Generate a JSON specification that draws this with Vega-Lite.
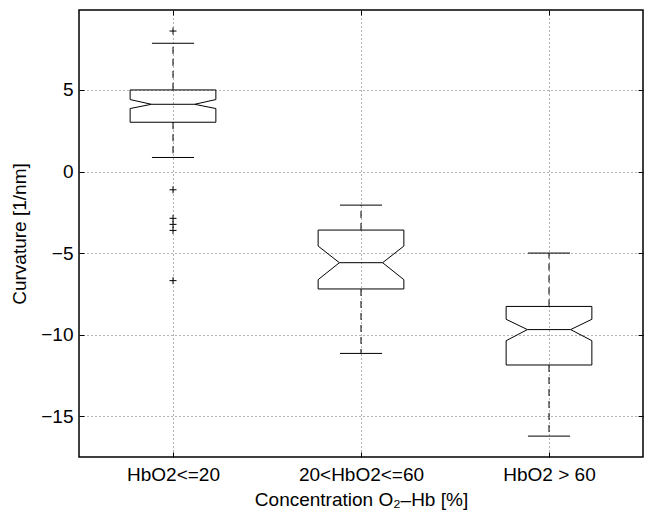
{
  "$schema": "https://vega.github.io/schema/vega-lite/v6.json",
  "autosize": {"type": "none"},
  "padding": {"left": 79, "top": 10, "right": 2, "bottom": 62},
  "width": 564,
  "height": 447,
  "background": "white",
  "config": {
    "view": {"stroke": "#000", "strokeWidth": 1.5},
    "font": "Liberation Sans",
    "axis": {"labelFont": "Liberation Sans", "titleFont": "Liberation Sans", "labelFontSize": 19, "titleFontSize": 19, "labelColor": "#000", "titleColor": "#000", "titleFontWeight": "normal", "tickColor": "#000", "domain": false}
  },
  "datasets": {
    "stats": [
      {"pos": 1, "name": "HbO2<=20", "wlo": 0.86, "q1": 3.02, "nlo": 3.86, "med": 4.12, "nhi": 4.41, "q3": 5.0, "whi": 7.86},
      {"pos": 2, "name": "20<HbO2<=60", "wlo": -11.15, "q1": -7.2, "nlo": -6.63, "med": -5.59, "nhi": -4.57, "q3": -3.59, "whi": -2.06},
      {"pos": 3, "name": "HbO2 > 60", "wlo": -16.22, "q1": -11.86, "nlo": -10.37, "med": -9.69, "nhi": -9.06, "q3": -8.27, "whi": -5.0}
    ],
    "outliers": [
      {"pos": 1, "value": 8.61},
      {"pos": 1, "value": -1.12},
      {"pos": 1, "value": -2.87},
      {"pos": 1, "value": -3.24},
      {"pos": 1, "value": -3.61},
      {"pos": 1, "value": -6.69}
    ]
  },
  "resolve": {"axis": {"x": "independent", "y": "independent"}},
  "layer": [
    {
      "data": {"name": "stats"},
      "transform": [
        {"calculate": "[-0.228,0.228,0.228,0.115,0.228,0.228,-0.228,-0.228,-0.115,-0.228,-0.228]", "as": "vx"},
        {"calculate": "[datum.q3,datum.q3,datum.nhi,datum.med,datum.nlo,datum.q1,datum.q1,datum.nlo,datum.med,datum.nhi,datum.q3]", "as": "vy"},
        {"calculate": "[0,1,2,3,4,5,6,7,8,9,10]", "as": "vi"},
        {"flatten": ["vx", "vy", "vi"]},
        {"calculate": "datum.pos + datum.vx", "as": "bx"}
      ],
      "mark": {"type": "line", "color": "#000", "strokeWidth": 1, "interpolate": "linear"},
      "encoding": {
        "x": {"field": "bx", "type": "quantitative",
          "scale": {"domain": [0.5, 3.5], "nice": false, "zero": false},
          "axis": {"orient": "bottom", "values": [1, 2, 3], "labelExpr": "datum.value == 1 ? 'HbO2<=20' : datum.value == 2 ? '20<HbO2<=60' : 'HbO2 > 60'",
            "title": "Concentration O₂–Hb [%]", "grid": true, "gridDash": [1, 3], "gridColor": "#666", "gridWidth": 1,
            "tickSize": -5, "labelPadding": 13, "titlePadding": 6, "labelFlush": false}},
        "y": {"field": "vy", "type": "quantitative",
          "scale": {"domain": [-17.5, 9.9], "nice": false, "zero": false},
          "axis": {"orient": "left", "values": [-15, -10, -5, 0, 5], "labelExpr": "datum.value < 0 ? '−' + abs(datum.value) : '' + datum.value",
            "title": "Curvature [1/nm]", "grid": true, "gridDash": [1, 3], "gridColor": "#666", "gridWidth": 1,
            "tickSize": -5, "labelPadding": 11, "titlePadding": 11, "labelFlush": false}},
        "order": {"field": "vi", "type": "quantitative"},
        "detail": {"field": "name"}
      }
    },
    {
      "data": {"name": "stats"},
      "transform": [
        {"calculate": "datum.pos - 0.115", "as": "mx1"},
        {"calculate": "datum.pos + 0.115", "as": "mx2"}
      ],
      "mark": {"type": "rule", "color": "#000", "strokeWidth": 1},
      "encoding": {
        "x": {"field": "mx1", "type": "quantitative",
          "axis": {"orient": "top", "values": [1, 2, 3], "labels": false, "title": null, "grid": false, "tickSize": -5}},
        "x2": {"field": "mx2"},
        "y": {"field": "med", "type": "quantitative",
          "axis": {"orient": "right", "values": [-15, -10, -5, 0, 5], "labels": false, "title": null, "grid": false, "tickSize": -5}}
      }
    },
    {
      "data": {"name": "stats"},
      "mark": {"type": "rule", "color": "#000", "strokeWidth": 1, "strokeDash": [7, 5]},
      "encoding": {
        "x": {"field": "pos", "type": "quantitative", "axis": null},
        "y": {"field": "q3", "type": "quantitative", "axis": null},
        "y2": {"field": "whi"}
      }
    },
    {
      "data": {"name": "stats"},
      "mark": {"type": "rule", "color": "#000", "strokeWidth": 1, "strokeDash": [7, 5]},
      "encoding": {
        "x": {"field": "pos", "type": "quantitative", "axis": null},
        "y": {"field": "q1", "type": "quantitative", "axis": null},
        "y2": {"field": "wlo"}
      }
    },
    {
      "data": {"name": "stats"},
      "transform": [
        {"calculate": "datum.pos - 0.112", "as": "cx1"},
        {"calculate": "datum.pos + 0.112", "as": "cx2"}
      ],
      "mark": {"type": "rule", "color": "#000", "strokeWidth": 1},
      "encoding": {
        "x": {"field": "cx1", "type": "quantitative", "axis": null},
        "x2": {"field": "cx2"},
        "y": {"field": "whi", "type": "quantitative", "axis": null}
      }
    },
    {
      "data": {"name": "stats"},
      "transform": [
        {"calculate": "datum.pos - 0.112", "as": "cx1"},
        {"calculate": "datum.pos + 0.112", "as": "cx2"}
      ],
      "mark": {"type": "rule", "color": "#000", "strokeWidth": 1},
      "encoding": {
        "x": {"field": "cx1", "type": "quantitative", "axis": null},
        "x2": {"field": "cx2"},
        "y": {"field": "wlo", "type": "quantitative", "axis": null}
      }
    },
    {
      "data": {"name": "outliers"},
      "mark": {"type": "point", "shape": "M-1,0L1,0M0,-1L0,1", "filled": false, "stroke": "#000", "strokeWidth": 1, "size": 49, "opacity": 1},
      "encoding": {
        "x": {"field": "pos", "type": "quantitative", "axis": null},
        "y": {"field": "value", "type": "quantitative", "axis": null}
      }
    }
  ]
}
